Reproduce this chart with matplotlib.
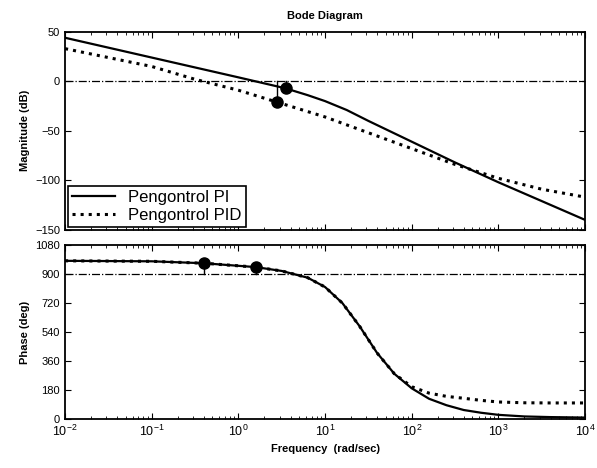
import numpy as np
import matplotlib
matplotlib.use('Agg')
import matplotlib.pyplot as plt

plt.rcParams['font.family'] = ['Liberation Sans', 'DejaVu Sans']

# data (frequency in rad/s, log10 points)
mag_pi_logw = [-2, -1, 0, 0.54, 0.8, 1.0, 1.25, 1.5, 2, 2.5, 3, 3.5, 4]
mag_pi_db = [44, 24, 4, -7, -14, -20, -29, -40, -61, -82, -102, -121, -140]

mag_pid_logw = [-2, -1.5, -1, -0.5, 0, 0.445, 1, 1.5, 2, 2.5, 3, 3.5, 4]
mag_pid_db = [33, 24, 15, 2, -9, -21, -36, -52, -68, -84, -98, -109, -117]

ph_pi_logw = [-2, -1, -0.4, 0.2, 0.5, 0.8, 1.0, 1.2, 1.4, 1.6, 1.8, 2.0, 2.2,
              2.4, 2.6, 2.8, 3.0, 3.3, 3.6, 4]
ph_pi_deg = [983, 980, 968, 944, 920, 878, 820, 720, 575, 410, 280, 190, 125,
             85, 55, 38, 25, 15, 11, 8]

ph_pid_logw = [-2, -1, -0.4, 0.2, 0.5, 0.8, 1.0, 1.2, 1.4, 1.6, 1.8, 2.0, 2.2,
               2.4, 2.6, 2.8, 3.0, 3.3, 3.6, 4]
ph_pid_deg = [983, 980, 968, 944, 920, 878, 820, 720, 575, 410, 280, 200, 160,
              140, 128, 115, 105, 100, 99, 99]

# margin markers
mag_mark_w = [3.5, 2.8]
mag_mark_db = [-7, -21]
ph_mark_w = [0.4, 1.58]
ph_mark_deg = [968, 944]

w_pi = 10.0 ** np.array(mag_pi_logw)
w_pid = 10.0 ** np.array(mag_pid_logw)
wp_pi = 10.0 ** np.array(ph_pi_logw)
wp_pid = 10.0 ** np.array(ph_pid_logw)

fig = plt.figure(figsize=(5.97, 4.68), dpi=100)
ax1 = fig.add_axes([0.109, 0.509, 0.871, 0.423])
ax2 = fig.add_axes([0.109, 0.105, 0.871, 0.371])

# magnitude
ax1.semilogx(w_pi, mag_pi_db, 'k-', lw=1.6, label='Pengontrol PI')
ax1.semilogx(w_pid, mag_pid_db, 'k:', lw=2.2, label='Pengontrol PID')
ax1.axhline(0, color='k', ls='-.', lw=0.9)
for w, m in zip(mag_mark_w, mag_mark_db):
    ax1.plot([w, w], [m, 0], 'k-', lw=1)
ax1.plot(mag_mark_w, mag_mark_db, 'ko', ms=8)
ax1.set_xlim(1e-2, 1e4)
ax1.set_ylim(-150, 50)
ax1.set_yticks([-150, -100, -50, 0, 50])
ax1.set_xticklabels([])
ax1.set_ylabel('Magnitude (dB)', fontsize=8, fontweight='bold')
ax1.set_title('Bode Diagram', fontsize=8, fontweight='bold', pad=9)
leg = ax1.legend(loc='lower left', bbox_to_anchor=(0, 0), borderaxespad=0.15,
                 fontsize=12, fancybox=False, edgecolor='k', framealpha=1,
                 handlelength=2.6, borderpad=0.25, labelspacing=0.2)
leg.get_frame().set_linewidth(1.2)

# phase
ax2.semilogx(wp_pi, ph_pi_deg, 'k-', lw=1.6)
ax2.semilogx(wp_pid, ph_pid_deg, 'k:', lw=2.2)
ax2.axhline(900, color='k', ls='-.', lw=0.9)
for w, p in zip(ph_mark_w, ph_mark_deg):
    ax2.plot([w, w], [p, 900], 'k-', lw=1)
ax2.plot(ph_mark_w, ph_mark_deg, 'ko', ms=8)
ax2.set_xlim(1e-2, 1e4)
ax2.set_ylim(0, 1080)
ax2.set_yticks([0, 180, 360, 540, 720, 900, 1080])
ax2.set_ylabel('Phase (deg)', fontsize=8, fontweight='bold')
ax2.set_xlabel('Frequency  (rad/sec)', fontsize=8, fontweight='bold')

for ax in (ax1, ax2):
    ax.tick_params(which='both', direction='in', top=True, right=True,
                   labelsize=8)
    ax.tick_params(which='major', length=4)
    ax.tick_params(which='minor', length=2)
    for s in ax.spines.values():
        s.set_linewidth(1.3)
ax2.tick_params(axis='x', labelsize=9)

plt.savefig('out.png', dpi=100)
